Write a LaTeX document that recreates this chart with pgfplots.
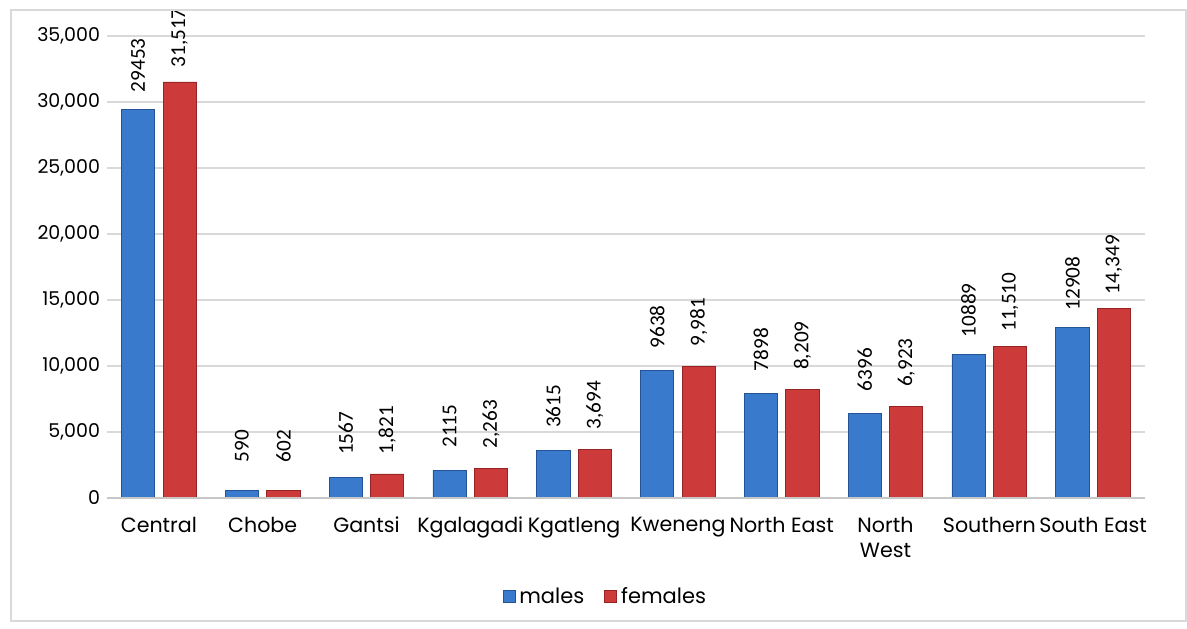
\documentclass[border=0pt]{standalone}
\usepackage{fontspec}
\setmainfont{Poppins}
\newfontfamily\lblfont{Carlito}
\usepackage{pgfplots}
\pgfplotsset{compat=1.18}
\usetikzlibrary{calc}

\definecolor{maleblue}{RGB}{58,122,204}
\definecolor{maleedge}{RGB}{36,84,150}
\definecolor{femred}{RGB}{204,58,58}
\definecolor{femedge}{RGB}{150,36,36}
\definecolor{gridgray}{RGB}{217,217,217}

\begin{document}
\begin{tikzpicture}
  \begin{axis}[
      name=ax,
      scale only axis,
      width=519pt, height=231pt,
      ymin=0, ymax=35000,
      xmin=-0.5, xmax=9.5,
      ytick={0,5000,...,35000},
      xtick={0,...,9},
      xticklabels={Central,Chobe,Gantsi,Kgalagadi,Kgatleng,Kweneng,North East,{North\\West},Southern,South East},
      xticklabel style={align=center, yshift=-6pt, font=\fontsize{10.3}{12.5}\selectfont},
      yticklabel style={font=\fontsize{9.5}{11}\selectfont},
      /pgf/number format/.cd, 1000 sep={,}, assume math mode=true,
      /pgfplots/.cd,
      scaled y ticks=false,
      major tick length=0pt,
      axis line style={draw=none},
      ymajorgrids, grid style={gridgray, line width=0.8pt},
      ybar, bar width=0.32,
      nodes near coords,
      point meta=explicit symbolic,
      every node near coord/.append style={anchor=center, yshift=22pt, rotate=90,
        font=\lblfont\fontsize{10.6}{12}\selectfont, text=black},
      legend style={at={(0.481,-0.214)}, anchor=center, draw=none, legend columns=2,
        font=\fontsize{10.5}{12}\selectfont, /tikz/every even column/.append style={column sep=8pt}},
      legend image code/.code={\draw[#1] (0pt,-3pt) rectangle (6pt,3pt);},
      clip=false,
    ]
    \addplot[bar shift=-0.2, fill=maleblue, draw=maleedge] coordinates {
      (0,29453) [29453]
      (1,590) [590]
      (2,1567) [1567]
      (3,2115) [2115]
      (4,3615) [3615]
      (5,9638) [9638]
      (6,7898) [7898]
      (7,6396) [6396]
      (8,10889) [10889]
      (9,12908) [12908]
    };
    \addplot[bar shift=0.2, fill=femred, draw=femedge] coordinates {
      (0,31517) [{31,517}]
      (1,602) [602]
      (2,1821) [{1,821}]
      (3,2263) [{2,263}]
      (4,3694) [{3,694}]
      (5,9981) [{9,981}]
      (6,8209) [{8,209}]
      (7,6923) [{6,923}]
      (8,11510) [{11,510}]
      (9,14349) [{14,349}]
    };
    \legend{males,females}
    \draw[gridgray!80!gray, line width=0.8pt] (rel axis cs:0,0) -- (rel axis cs:1,0);
  \end{axis}
  \draw[gridgray, line width=0.6pt] ($(ax.south west)+(-48pt,-61.5pt)$) rectangle ($(ax.south west)+(539.5pt,244pt)$);
  \pgfresetboundingbox
  \path[use as bounding box] ($(ax.south west)+(-53.5pt,-65pt)$) rectangle ++(593.5pt,314pt);
\end{tikzpicture}
\end{document}
